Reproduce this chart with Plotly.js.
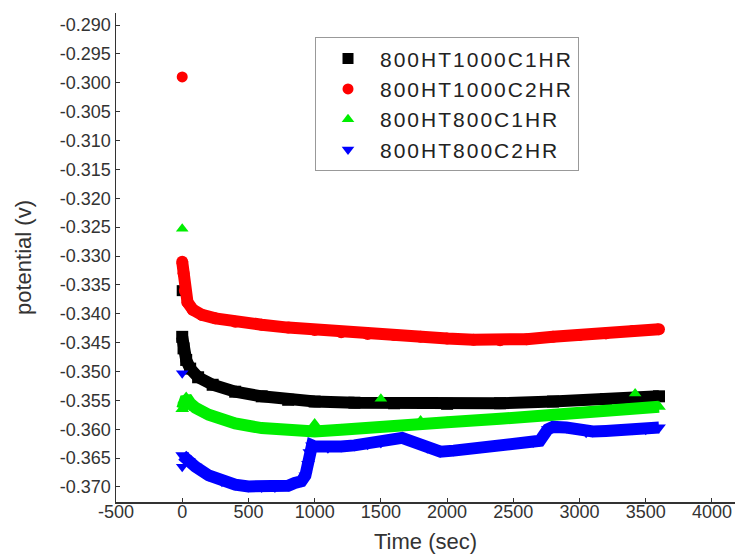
<!DOCTYPE html>
<html>
<head>
<meta charset="utf-8">
<script src="https://cdn.plot.ly/plotly-3.0.1.min.js"></script>
<style>
html,body{margin:0;padding:0;background:#fff;}
#chart{width:736px;height:554px;}
.legendtext{letter-spacing:2px;}
</style>
</head>
<body>
<div id="chart"></div>
<script>
// Series names
const seriesNames = ["800HT1000C1HR", "800HT1000C2HR", "800HT800C1HR", "800HT800C2HR"];

// 800HT1000C1HR (black squares)
const blackT = [0, 10, 30, 60, 120, 230, 400, 600, 800, 1000, 1300, 1600, 2000, 2400, 2800, 3200, 3600];
const blackV = [-0.3440, -0.3460, -0.3480, -0.3495, -0.3510, -0.3523, -0.3535, -0.3543, -0.3549, -0.3552, -0.3554, -0.3555, -0.3556, -0.3555, -0.3552, -0.3548, -0.3543];
const blackPtT = [0];
const blackPtV = [-0.3360];

// 800HT1000C2HR (red circles)
const redT = [0, 10, 20, 40, 80, 150, 250, 400, 600, 800, 1000, 1200, 1400, 1600, 1800, 2000, 2200, 2400, 2600, 2800, 3000, 3200, 3400, 3600];
const redV = [-0.3310, -0.3330, -0.3360, -0.3380, -0.3393, -0.3402, -0.3408, -0.3414, -0.3419, -0.3424, -0.3428, -0.3432, -0.3435, -0.3437, -0.3440, -0.3443, -0.3445, -0.3446, -0.3444, -0.3440, -0.3437, -0.3434, -0.3430, -0.3427];
const redPtT = [0];
const redPtV = [-0.2990];

// 800HT800C1HR (green up-triangles)
const greenT = [0, 15, 30, 60, 100, 200, 400, 600, 800, 1000, 1200, 1400, 1600, 1800, 2000, 2400, 2800, 3200, 3600];
const greenV = [-0.3565, -0.3550, -0.3545, -0.3555, -0.3563, -0.3575, -0.3590, -0.3598, -0.3603, -0.3604, -0.3601, -0.3599, -0.3596, -0.3592, -0.3588, -0.3582, -0.3575, -0.3568, -0.3561];
const greenPtT = [0, 1000, 1500, 1800, 3420];
const greenPtV = [-0.3253, -0.3590, -0.3547, -0.3585, -0.3538];

// 800HT800C2HR (blue down-triangles)
const blueT = [0, 20, 50, 100, 200, 300, 400, 500, 600, 700, 800, 850, 900, 930, 950, 960, 980, 1000, 1100, 1200, 1300, 1400, 1500, 1600, 1660, 1750, 1850, 1950, 2050, 2150, 2250, 2350, 2450, 2550, 2650, 2700, 2760, 2800, 2900, 3000, 3050, 3100, 3200, 3300, 3400, 3500, 3600];
const blueV = [-0.3645, -0.3650, -0.3655, -0.3665, -0.3680, -0.3690, -0.3696, -0.3699, -0.3700, -0.3700, -0.3698, -0.3693, -0.3690, -0.3680, -0.3660, -0.3640, -0.3628, -0.3630, -0.3632, -0.3630, -0.3628, -0.3626, -0.3623, -0.3617, -0.3615, -0.3622, -0.3632, -0.3639, -0.3637, -0.3634, -0.3631, -0.3628, -0.3624, -0.3624, -0.3622, -0.3620, -0.3600, -0.3596, -0.3597, -0.3600, -0.3605, -0.3604, -0.3603, -0.3601, -0.3600, -0.3600, -0.3597];
const bluePtT = [0, 0];
const bluePtV = [-0.3503, -0.3665];

// Axis ticks
const xTickVals = [-500, 0, 500, 1000, 1500, 2000, 2500, 3000, 3500, 4000];
const yTickVals = [-0.290, -0.295, -0.300, -0.305, -0.310, -0.315, -0.320, -0.325, -0.330, -0.335, -0.340, -0.345, -0.350, -0.355, -0.360, -0.365, -0.370];

const colors = ["#000000", "#ff0000", "#00ee00", "#0000ff"];
const symbols = ["square", "circle", "triangle-up", "triangle-down"];

const bulk = [[blackT, blackV], [redT, redV], [greenT, greenV], [blueT, blueV]];
const pts = [[blackPtT, blackPtV], [redPtT, redPtV], [greenPtT, greenPtV], [bluePtT, bluePtV]];

const traces = [];
for (let i = 0; i < 4; i++) {
  traces.push({
    x: pts[i][0], y: pts[i][1], type: 'scatter', mode: 'markers',
    name: seriesNames[i], legendrank: i + 1,
    marker: {color: colors[i], symbol: symbols[i], size: 11},
    hoverinfo: 'skip'
  });
  traces.push({
    x: bulk[i][0], y: bulk[i][1], type: 'scatter', mode: 'lines+markers',
    line: {color: colors[i], width: 12},
    marker: {color: colors[i], symbol: symbols[i], size: 12},
    showlegend: false, hoverinfo: 'skip'
  });
}

const fontFam = 'Liberation Sans, Arial, sans-serif';
const layout = {
  width: 736, height: 554,
  margin: {l: 116, r: 1, t: 13, b: 52},
  paper_bgcolor: '#ffffff', plot_bgcolor: '#ffffff',
  font: {family: fontFam, color: '#222222'},
  xaxis: {
    range: [-500, 4174], tickvals: xTickVals, ticktext: xTickVals.map(String),
    showgrid: false, zeroline: false, showline: true, linecolor: '#333', linewidth: 1.5,
    ticks: 'inside', ticklen: 4, tickcolor: '#333', ticklabelstandoff: -7,
    tickfont: {size: 18, family: fontFam, color: '#333'},
    title: {text: 'Time (sec)', font: {size: 22, family: fontFam, color: '#333'}, standoff: 13}
  },
  yaxis: {
    range: [-0.3726, -0.28792], tickvals: yTickVals, ticktext: yTickVals.map(v => v.toFixed(3)),
    showgrid: false, zeroline: false, showline: true, linecolor: '#333', linewidth: 1.5,
    ticks: 'inside', ticklen: 4, tickcolor: '#333',
    tickfont: {size: 18, family: fontFam, color: '#333'},
    title: {text: 'potential (v)', font: {size: 22, family: fontFam, color: '#333'}, standoff: 22}
  },
  legend: {
    x: 0.3215, y: 0.950, xanchor: 'left', yanchor: 'top',
    bordercolor: '#999999', borderwidth: 1, bgcolor: '#ffffff',
    font: {size: 21, family: fontFam, color: '#222'},
    itemwidth: 54, tracegroupgap: 0
  }
};

Plotly.newPlot('chart', traces, layout, {staticPlot: true, displayModeBar: false});
</script>
</body>
</html>
